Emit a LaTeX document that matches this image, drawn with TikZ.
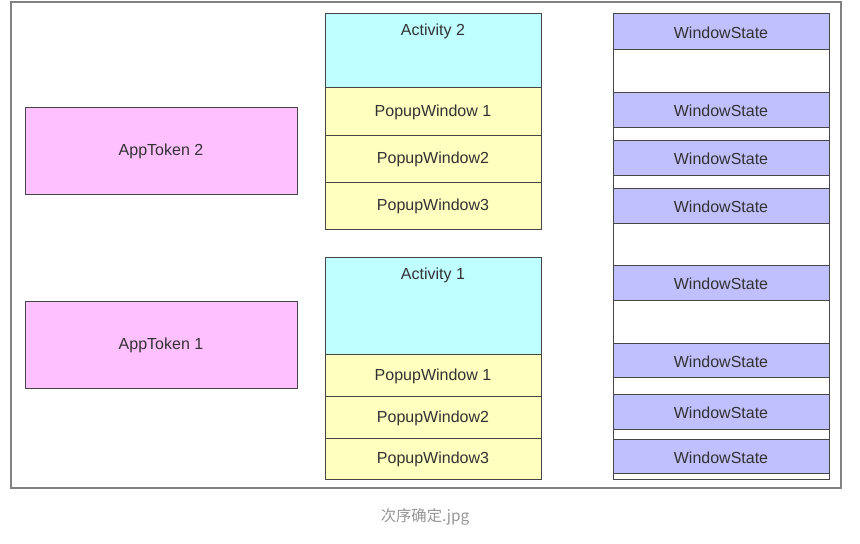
\documentclass[tikz,border=0pt]{standalone}
\usepackage{fontspec}
\setmainfont{Liberation Sans}
\newfontfamily\cjk{Noto Sans CJK SC}
\usetikzlibrary{fit}
\definecolor{tokpink}{RGB}{255,192,255}
\definecolor{actcyan}{RGB}{192,255,255}
\definecolor{popyellow}{RGB}{255,255,192}
\definecolor{wslav}{RGB}{192,192,255}
\definecolor{edgegray}{RGB}{70,70,70}
\definecolor{framegray}{RGB}{130,130,130}
\definecolor{textgray}{RGB}{50,50,50}
\definecolor{capgray}{RGB}{150,150,150}
\begin{document}
\begin{tikzpicture}[x=0.75pt,y=-0.75pt,
  cell/.style={draw=edgegray, line width=0.75pt, inner sep=0pt},
  celltext/.style={text=textgray, font=\fontsize{12}{14}\selectfont, inner sep=0pt, yshift=-1pt},
  token/.style={cell, fill=tokpink},
  act/.style={cell, fill=actcyan},
  pop/.style={cell, fill=popyellow},
  ws/.style={cell, fill=wslav},
  column/.style={cell, fill=white},
  frame/.style={draw=framegray, line width=1.1pt, inner sep=0pt},
  actlabel/.style={celltext, anchor=north, yshift=-7pt}
]
\useasboundingbox (0,0) rectangle (860,543);
\fill[white] (0,0) rectangle (860,543);
\node[frame, fit={(11,2) (841,488)}] (outer) {};

% App tokens
\node[token, fit={(25,107) (297,194)}, label={[celltext]center:AppToken 2}] (tok2) {};
\node[token, fit={(25,301) (297,388)}, label={[celltext]center:AppToken 1}] (tok1) {};

% Activity 2 group
\node[act, fit={(325,13) (541,87)}, label={[actlabel]north:Activity 2}] (act2) {};
\node[pop, fit={(325,87) (541,135)}, label={[celltext]center:PopupWindow 1}] (p21) {};
\node[pop, fit={(325,135) (541,182)}, label={[celltext]center:PopupWindow2}] (p22) {};
\node[pop, fit={(325,182) (541,229)}, label={[celltext]center:PopupWindow3}] (p23) {};

% Activity 1 group
\node[act, fit={(325,257) (541,354)}, label={[actlabel]north:Activity 1}] (act1) {};
\node[pop, fit={(325,354) (541,396)}, label={[celltext]center:PopupWindow 1}] (p11) {};
\node[pop, fit={(325,396) (541,438)}, label={[celltext]center:PopupWindow2}] (p12) {};
\node[pop, fit={(325,438) (541,479)}, label={[celltext]center:PopupWindow3}] (p13) {};

% Window state column
\node[column, fit={(613,13) (829,479)}] (col) {};
\node[ws, fit={(613,13) (829,49)}, label={[celltext]center:WindowState}] (ws1) {};
\node[ws, fit={(613,92) (829,127)}, label={[celltext]center:WindowState}] (ws2) {};
\node[ws, fit={(613,140) (829,175)}, label={[celltext]center:WindowState}] (ws3) {};
\node[ws, fit={(613,188) (829,223)}, label={[celltext]center:WindowState}] (ws4) {};
\node[ws, fit={(613,265) (829,300)}, label={[celltext]center:WindowState}] (ws5) {};
\node[ws, fit={(613,343) (829,377)}, label={[celltext]center:WindowState}] (ws6) {};
\node[ws, fit={(613,394) (829,429)}, label={[celltext]center:WindowState}] (ws7) {};
\node[ws, fit={(613,439) (829,473)}, label={[celltext]center:WindowState}] (ws8) {};

% Caption
\node[text=capgray, font=\cjk\fontsize{11.5}{13}\selectfont] (cap) at (425,517) {次序确定.jpg};
\end{tikzpicture}
\end{document}
